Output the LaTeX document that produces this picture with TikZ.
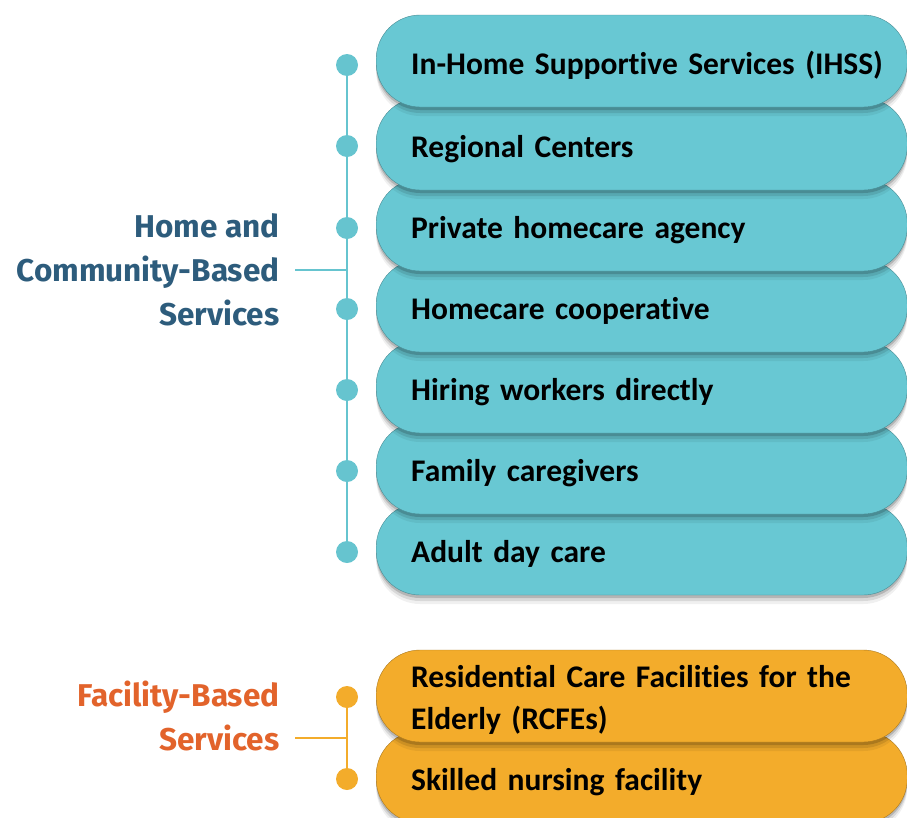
\documentclass[tikz,border=0pt]{standalone}
\usepackage{fontspec}
\setmainfont{Carlito}[Ligatures=NoCommon,WordSpace=0.75]
\newfontfamily\labfont{Fira Sans}
\usetikzlibrary{shadows,calc}
\definecolor{tealpill}{HTML}{68C8D3}
\definecolor{tealdot}{HTML}{66C4CF}
\definecolor{orpill}{HTML}{F3AC2B}
\definecolor{bluelab}{HTML}{2D5C7C}
\definecolor{orlab}{HTML}{E2632B}
\tikzset{
  pill/.style={draw=#1!70!black, line width=0.4pt, rounded corners=44pt, minimum width=531pt, minimum height=92pt,
    text width=461pt, align=left, anchor=west, font=\fontsize{31.5}{37}\selectfont\bfseries, text=black,
    drop shadow={shadow xshift=0pt, shadow yshift=-9pt, opacity=0.06, fill=black},
    drop shadow={shadow xshift=0pt, shadow yshift=-6pt, opacity=0.10, fill=black},
    drop shadow={shadow xshift=0pt, shadow yshift=-3pt, opacity=0.16, fill=black}},
  oneline/.style={text height=26pt, text depth=0pt},
  tpill/.style={pill=tealpill, fill=tealpill, oneline},
  opill/.style={pill=orpill, fill=orpill},
  tdot/.style={circle, fill=tealdot, inner sep=0pt, minimum size=22pt},
  odot/.style={circle, fill=orpill, inner sep=0pt, minimum size=22pt},
  grplab/.style={anchor=east, align=right, font=\labfont\fontsize{31.5}{44}\selectfont\bfseries},
}
\begin{document}
\begin{tikzpicture}[x=1pt,y=-1pt]
\useasboundingbox (0,0) rectangle (907,817);
\clip (0,0) rectangle (907,817);
% teal pills, bottom first
\node[tpill] (p7) at (376,549) {Adult day care};
\node[tpill] (p6) at (376,468) {Family caregivers};
\node[tpill] (p5) at (376,387) {Hiring workers directly};
\node[tpill] (p4) at (376,306) {Homecare cooperative};
\node[tpill] (p3) at (376,225) {Private homecare agency};
\node[tpill] (p2) at (376,144) {Regional Centers};
\node[tpill] (p1) at (376,61) {\mbox{In-Home Supportive Services (IHSS)}};
% orange pills
\node[opill, oneline] (q2) at (376,777) {Skilled nursing facility};
\node[opill] (q1) at (376,696) {\rule{0pt}{30pt}Residential Care Facilities for the\\[5pt]Elderly (RCFEs)};
% teal dots and spine
\draw[tealdot, line width=2pt] (347,65) -- (347,552);
\foreach \i/\y in {1/65,2/146,3/228,4/309,5/390,6/471,7/552}
  \node[tdot] (d\i) at (347,\y) {};
\node[grplab, text=bluelab] (hcbs) at (283,270) {Home and\\Community-Based\\Services};
\coordinate (hj) at (347,270);
\draw[tealdot, line width=1.5pt] (295,270) -- (hj);
% orange dots and spine
\draw[orpill, line width=2pt] (347,697) -- (347,779);
\node[odot] (e1) at (347,697) {};
\node[odot] (e2) at (347,779) {};
\node[grplab, text=orlab] (fbs) at (283,716) {Facility-Based\\Services};
\coordinate (fj) at (347,738);
\draw[orpill, line width=1.5pt] (295,738) -- (fj);
\end{tikzpicture}
\end{document}
